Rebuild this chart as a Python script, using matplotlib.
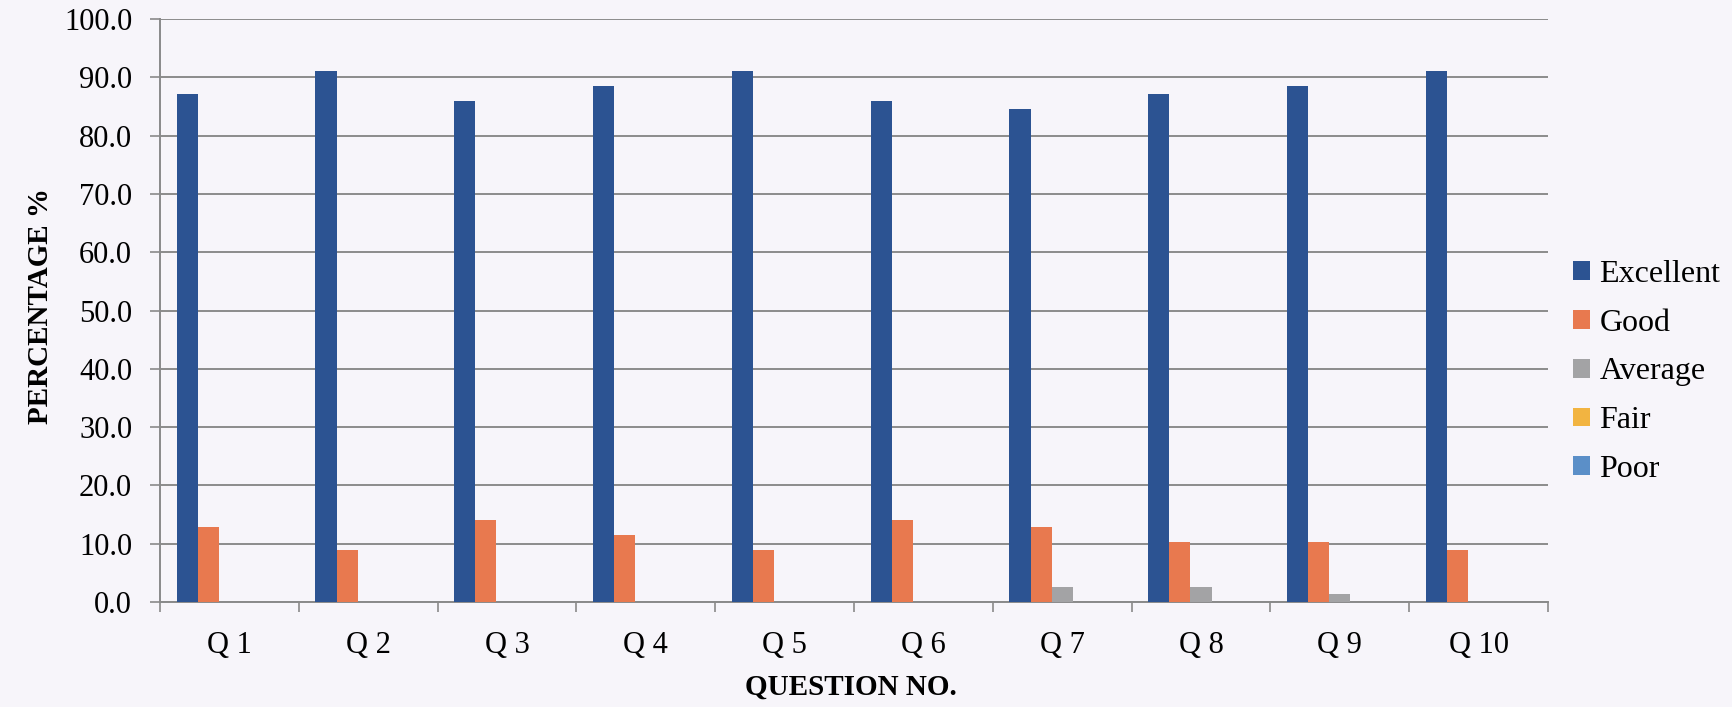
import numpy as np
import matplotlib.pyplot as plt
from matplotlib.ticker import FixedLocator

# Percentages per question
questions = ["Q 1", "Q 2", "Q 3", "Q 4", "Q 5", "Q 6", "Q 7", "Q 8", "Q 9", "Q 10"]
excellent = [87.2, 91.0, 85.9, 88.5, 91.0, 85.9, 84.6, 87.2, 88.5, 91.0]
good = [12.8, 9.0, 14.1, 11.5, 9.0, 14.1, 12.8, 10.3, 10.3, 9.0]
average = [0.0, 0.0, 0.0, 0.0, 0.0, 0.0, 2.6, 2.6, 1.3, 0.0]
fair = [0.0] * 10
poor = [0.0] * 10

series = ["Excellent", "Good", "Average", "Fair", "Poor"]
colors = ["#2c5392", "#e8794f", "#a3a3a5", "#f2b441", "#5b8fc8"]

plt.rcParams['font.family'] = ['Liberation Serif', 'DejaVu Serif']
bg = "#f7f5fa"

fig = plt.figure(figsize=(17.33, 7.07), dpi=100, facecolor=bg)
ax = fig.add_axes([160 / 1733, 105 / 707, 1388 / 1733, 583 / 707], facecolor=bg)

x = np.arange(len(questions))
w = 0.152
data = [excellent, good, average, fair, poor]
for i, (vals, name, c) in enumerate(zip(data, series, colors)):
    ax.bar(x + (i - 2) * w, vals, w, color=c, label=name, zorder=3)

ax.set_xlim(-0.5, len(questions) - 0.5)
ax.set_ylim(0, 100)
ax.set_yticks(np.arange(0, 101, 10))
ax.set_yticklabels([f"{v:.1f}" for v in range(0, 101, 10)], fontsize=22)
ax.set_xticks(x)
ax.set_xticklabels(questions, fontsize=22)
ax.xaxis.set_minor_locator(FixedLocator(np.arange(-0.5, len(questions), 1)))
ax.tick_params(axis='x', which='major', length=0, pad=21)
ax.tick_params(axis='x', which='minor', length=7, width=1.2, color="#8a8a8a")
ax.tick_params(axis='y', length=7, width=1.2, color="#8a8a8a", pad=13)

ax.grid(axis='y', color="#8c8c8c", linewidth=1.4, zorder=0)
for s in ["top", "right"]:
    ax.spines[s].set_visible(False)
for s in ["left", "bottom"]:
    ax.spines[s].set_color("#8a8a8a")
    ax.spines[s].set_linewidth(1.4)

fig.text(851 / 1733, 1 - 687 / 707, "QUESTION NO.", fontsize=21, fontweight='bold',
         ha='center', va='center')
fig.text(41 / 1733, 1 - 306 / 707, "PERCENTAGE %", fontsize=21, fontweight='bold',
         ha='center', va='center', rotation=90)

ax.legend(loc='center left', bbox_to_anchor=(1573 / 1733, 1 - 372 / 707),
          bbox_transform=fig.transFigure, frameon=False, fontsize=23,
          handlelength=0.53, handleheight=0.53, handletextpad=0.3,
          labelspacing=0.62, borderpad=0, borderaxespad=0)

plt.savefig("out.png", dpi=100, facecolor=bg)
